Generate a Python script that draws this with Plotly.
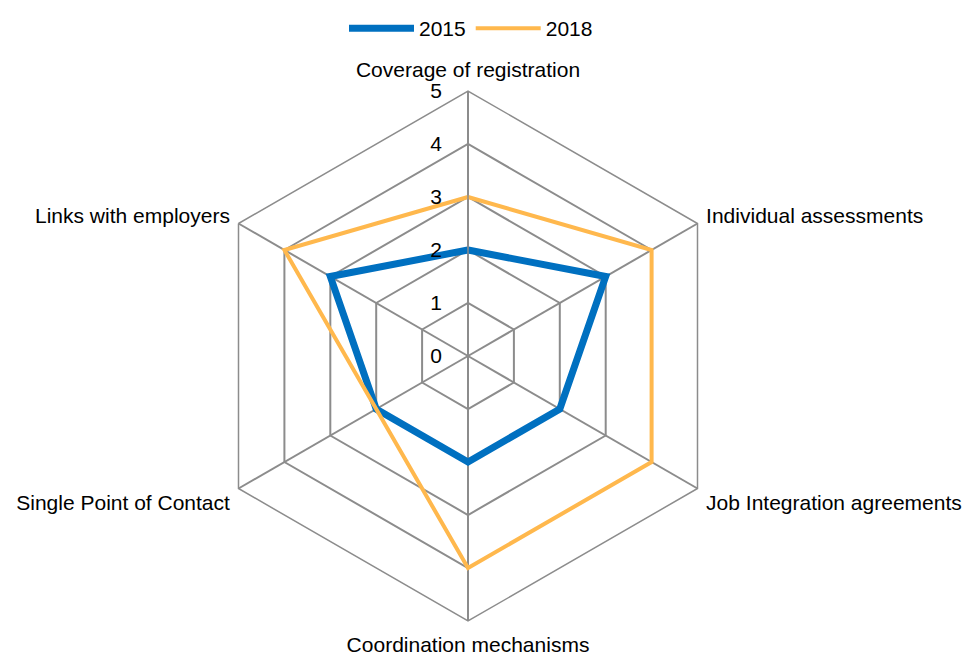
import plotly.graph_objects as go

categories = ['Coverage of registration', 'Individual assessments', 'Job Integration agreements',
              'Coordination mechanisms', 'Single Point of Contact', 'Links with employers']
values_2015 = [2, 3, 2, 2, 2, 3]
values_2018 = [3, 4, 4, 4, 2, 4]

W, H = 970, 655
cx, cy, rad = 460, 348, 265  # centre and outer radius in px (offset compensates plotly's shift)

fig = go.Figure()
fig.add_trace(go.Scatterpolar(r=values_2015 + values_2015[:1], theta=categories + categories[:1],
                              mode='lines', name='2015', line={'color': '#0070C0', 'width': 7}))
fig.add_trace(go.Scatterpolar(r=values_2018 + values_2018[:1], theta=categories + categories[:1],
                              mode='lines', name='2018', line={'color': '#FFB84D', 'width': 4}))

fig.update_layout(
    width=W, height=H,
    paper_bgcolor='white',
    font={'family': 'Liberation Sans, Arial', 'size': 21, 'color': 'black'},
    margin={'l': 0, 'r': 0, 't': 0, 'b': 0},
    legend={'orientation': 'h', 'x': (485 - 22) / W, 'xanchor': 'center', 'y': 1, 'yanchor': 'top',
            'font': {'size': 21}, 'itemwidth': 65},
    polar={
        'domain': {'x': [(cx - rad) / W, (cx + rad) / W], 'y': [(H - cy - rad) / H, (H - cy + rad) / H]},
        'gridshape': 'linear',
        'bgcolor': 'white',
        # transparent ticks just push the category labels outwards
        'angularaxis': {'rotation': 90, 'direction': 'clockwise', 'showgrid': True,
                        'gridcolor': '#8c8c8c', 'gridwidth': 1.5, 'linecolor': '#8c8c8c', 'linewidth': 1.5,
                        'ticks': 'outside', 'ticklen': 5, 'tickcolor': 'rgba(0,0,0,0)',
                        'tickfont': {'size': 21}},
        'radialaxis': {'range': [0, 5], 'dtick': 1, 'angle': 90, 'tickangle': 90, 'side': 'counterclockwise',
                       'showline': True, 'linecolor': '#8c8c8c', 'linewidth': 1.5,
                       'gridcolor': '#8c8c8c', 'gridwidth': 1.5,
                       'ticks': 'outside', 'ticklen': 18, 'tickcolor': 'rgba(0,0,0,0)',
                       'tickfont': {'size': 21}},
    },
)

fig.write_html('out.html')
